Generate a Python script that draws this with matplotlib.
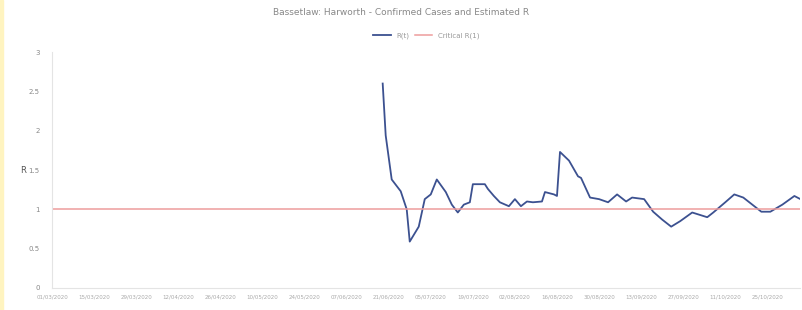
import numpy as np
import pandas as pd
import matplotlib.pyplot as plt
import matplotlib.dates as mdates

# Estimated R (day offset from start date, value)
start = pd.Timestamp('2020-03-01')
n_days = 250
day_offset = [110, 111, 113, 116, 118, 119, 122, 124, 126, 128, 131, 133, 135, 137,
              139, 140, 144, 145, 147, 149, 152, 154, 156, 158, 160, 163, 164, 167,
              168, 169, 172, 175, 176, 179, 182, 185, 188, 191, 193, 197, 200, 203,
              206, 209, 213, 218, 220, 224, 227, 230, 236, 239, 243, 247, 249]
r_value = [2.60, 1.94, 1.38, 1.23, 1.00, 0.59, 0.78, 1.13, 1.19, 1.38, 1.22, 1.06,
           0.96, 1.06, 1.09, 1.32, 1.32, 1.26, 1.17, 1.09, 1.04, 1.13, 1.04, 1.10,
           1.09, 1.10, 1.22, 1.19, 1.17, 1.73, 1.62, 1.42, 1.40, 1.15, 1.13, 1.09,
           1.19, 1.10, 1.15, 1.13, 0.97, 0.87, 0.78, 0.85, 0.96, 0.90, 0.96, 1.09,
           1.19, 1.15, 0.97, 0.97, 1.06, 1.17, 1.13]
critical_r = 1.0

all_dates = start + pd.to_timedelta(np.arange(n_days), unit='D')
r_dates = start + pd.to_timedelta(day_offset, unit='D')

fig = plt.figure(figsize=(8.02, 3.10), dpi=100)
ax = fig.add_axes([0.065, 0.071, 0.933, 0.761])

ax.plot(r_dates, r_value, color='#3c5190', linewidth=1.3, label='R(t)')
ax.plot(all_dates, np.full(n_days, critical_r), color='#ee9c9c', linewidth=1.1,
        label='Critical R(1)')

ax.set_xlim(all_dates[0], all_dates[-1])
ax.set_ylim(0, 3)
ax.set_yticks(np.arange(0, 3.01, 0.5))
ax.set_yticklabels(['0', '0.5', '1', '1.5', '2', '2.5', '3'])
ax.set_xticks(all_dates[::14])
ax.xaxis.set_major_formatter(mdates.DateFormatter('%d/%m/%Y'))
ax.tick_params(axis='x', labelsize=4, colors='#aaaaaa', length=0, pad=5)
ax.tick_params(axis='y', labelsize=5, colors='#888888', length=0, pad=9)

for s in ['top', 'right']:
    ax.spines[s].set_visible(False)
for s in ['left', 'bottom']:
    ax.spines[s].set_color('#e4e4e4')
    ax.spines[s].set_linewidth(0.8)

ax.set_ylabel('R', fontsize=6, color='#555555', rotation=0, labelpad=4, va='center')
fig.suptitle('Bassetlaw: Harworth - Confirmed Cases and Estimated R', fontsize=6.5,
             color='#888888', y=0.975)
ax.legend(loc='upper center', bbox_to_anchor=(0.5, 1.11), ncol=2, frameon=False,
          fontsize=5, labelcolor='#999999', handlelength=2.5, columnspacing=0.8)

fig.patches.append(plt.Rectangle((0, 0), 0.004, 1, transform=fig.transFigure,
                                 color='#fff4c0', zorder=0))

fig.savefig('out.png', dpi=100)
